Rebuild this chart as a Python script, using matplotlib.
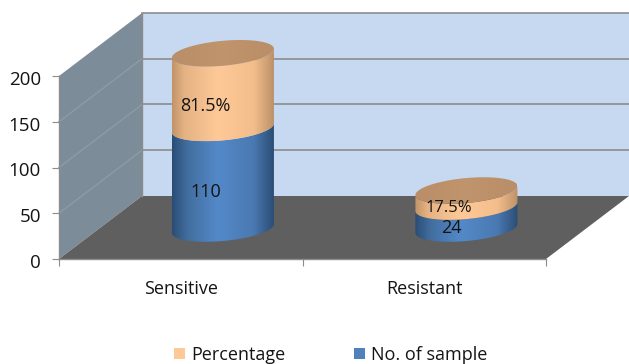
import numpy as np
import matplotlib
matplotlib.use('Agg')
import matplotlib.pyplot as plt
from matplotlib.colors import LinearSegmentedColormap
from matplotlib.patches import Patch, Polygon
from matplotlib.transforms import ScaledTranslation

categories = ['Sensitive', 'Resistant']
no_of_sample = [110, 24]
percentage = [81.5, 17.5]
percentage_labels = ['81.5%', '17.5%']
y_ticks = [0, 50, 100, 150, 200]

# layout of the fake 3D box, in pixels of the 629x364 figure
W, H = 629, 364
LEFT, RIGHT, TOP, BOTTOM = 59, 546, 76, 259
PX_X = 2 / (RIGHT - LEFT)     # data units per pixel
PX_Y = 200 / (BOTTOM - TOP)
DEPTH_X = 83 * PX_X
DEPTH_Y = 63 * PX_Y
MID = 0.484                   # where the cylinders stand on the floor

plt.rcParams['font.family'] = ['Open Sans', 'DejaVu Sans']
TEXT = '#141414'

fig = plt.figure(figsize=(W / 100, H / 100), dpi=100)
ax = fig.add_axes([LEFT / W, 1 - BOTTOM / H, (RIGHT - LEFT) / W, (BOTTOM - TOP) / H])
ax.set_xlim(0, 2)
ax.set_ylim(0, 200)

# walls and floor
ax.add_patch(Polygon([(0, 0), (DEPTH_X, DEPTH_Y), (DEPTH_X, 200 + DEPTH_Y), (0, 200)],
                     fc='#7D8C99', ec='none', clip_on=False, zorder=1))
ax.add_patch(Polygon([(DEPTH_X, DEPTH_Y), (2 + DEPTH_X, DEPTH_Y),
                      (2 + DEPTH_X, 200 + DEPTH_Y), (DEPTH_X, 200 + DEPTH_Y)],
                     fc='#C6D9F1', ec='none', clip_on=False, zorder=1))
ax.add_patch(Polygon([(0, 0), (2, 0), (2 + DEPTH_X, DEPTH_Y), (DEPTH_X, DEPTH_Y)],
                     fc='#5F5F5F', ec='none', clip_on=False, zorder=2))

# gridlines, faint on the side wall
for v in y_ticks[1:]:
    if v < 200:
        ax.plot([0, DEPTH_X], [v, v + DEPTH_Y], color='#8E9BA5', lw=1, clip_on=False, zorder=2)
    ax.plot([DEPTH_X, 2 + DEPTH_X], [v + DEPTH_Y, v + DEPTH_Y], color='#8C8C8C', lw=1.2,
            clip_on=False, zorder=2)
ax.plot([DEPTH_X, DEPTH_X], [DEPTH_Y, 200 + DEPTH_Y], color='#8C8C8C', lw=1, clip_on=False, zorder=2)

orange_map = LinearSegmentedColormap.from_list('o', [(0, '#C09468'), (0.12, '#E5B283'),
                                                     (0.45, '#FFC997'), (0.8, '#F4BE8C'), (1, '#BC9168')])
blue_map = LinearSegmentedColormap.from_list('b', [(0, '#2B4D75'), (0.15, '#426E9F'),
                                                   (0.45, '#5489C9'), (0.8, '#4A79B2'), (1, '#2B4D75')])
top_map = LinearSegmentedColormap.from_list('t', ['#B98E68', '#C0946C', '#B98E68'])
gradient = np.linspace(0, 1, 256).reshape(1, -1)

RX = 51 * PX_X
RY = 12.5 * PX_Y
TILT = 4.5 * PX_Y


def shaded(points, cmap, zorder):
    xs, ys = points[:, 0], points[:, 1]
    im = ax.imshow(gradient, cmap=cmap, aspect='auto', zorder=zorder,
                   extent=[xs.min(), xs.max(), ys.min(), ys.max()])
    im.set_clip_path(Polygon(points, transform=ax.transData))
    im.set_clip_box(fig.bbox)


def front_arc(cx, cy):
    t = np.linspace(0, np.pi, 80)
    return np.column_stack([cx + RX * np.cos(t), cy - RY * np.sin(t) + TILT * np.cos(t)])


def segment(cx, low, high, cmap):
    lower = front_arc(cx, low)
    upper = front_arc(cx, high)[::-1]
    shaded(np.vstack([lower, upper]), cmap, 3)


label_shift = [(-18, -15), (-17, -14), (-18, -9.5), (-15, -10)]
for i in range(len(categories)):
    cx = i + 0.5 + MID * DEPTH_X + 2 * PX_X
    base = MID * DEPTH_Y
    n, p = no_of_sample[i], percentage[i]
    segment(cx, base, base + n, blue_map)
    segment(cx, base + n, base + n + p, orange_map)
    t = np.linspace(0, 2 * np.pi, 160)
    lid = np.column_stack([cx + RX * np.cos(t),
                           base + n + p - RY * np.sin(t) + TILT * np.cos(t)])
    shaded(lid, top_map, 4)

    sx, sy = label_shift[2 * i]
    ax.annotate(percentage_labels[i], (cx, base + n + p / 2), xytext=(sx, sy),
                textcoords='offset pixels', ha='center', va='center',
                fontsize=13 if i == 0 else 12, color=TEXT, zorder=5, annotation_clip=False)
    sx, sy = label_shift[2 * i + 1]
    ax.annotate(str(n), (cx, base + n / 2), xytext=(sx, sy),
                textcoords='offset pixels', ha='center', va='center',
                fontsize=13, color=TEXT, zorder=5, annotation_clip=False)

ax.set_xlim(0, 2)
ax.set_ylim(0, 200)
ax.patch.set_visible(False)

for side in ['top', 'right']:
    ax.spines[side].set_visible(False)
for side in ['left', 'bottom']:
    ax.spines[side].set_color('#8C8C8C')
    ax.spines[side].set_linewidth(1)
    ax.spines[side].set_zorder(6)

ax.set_yticks(y_ticks)
ax.set_xticks([0, 1, 2])
ax.set_xticklabels([])
ax.set_xticks([0.5, 1.5], minor=True)
ax.set_xticklabels(categories, minor=True)
ax.tick_params(axis='x', which='minor', length=0, pad=15, labelsize=13, labelcolor=TEXT)
ax.tick_params(axis='x', which='major', length=5, color='#8C8C8C')
ax.tick_params(axis='y', length=5, color='#8C8C8C', labelsize=13.5, labelcolor=TEXT, pad=8)

# y labels sit a bit under their ticks in the original
down = ScaledTranslation(0, -2 / 100, fig.dpi_scale_trans)
for label in ax.get_yticklabels():
    label.set_transform(label.get_transform() + down)

handles = [Patch(fc='#FFC997', ec='none'), Patch(fc='#4F81BD', ec='none')]
fig.legend(handles, ['Percentage', 'No. of sample'], ncol=2, frameon=False,
           loc='center', bbox_to_anchor=(331 / W, 1 - 355 / H),
           fontsize=13, labelcolor=TEXT, handlelength=0.61, handleheight=0.61,
           handletextpad=0.33, columnspacing=3.8, borderpad=0)

fig.savefig('out.png', dpi=100)
